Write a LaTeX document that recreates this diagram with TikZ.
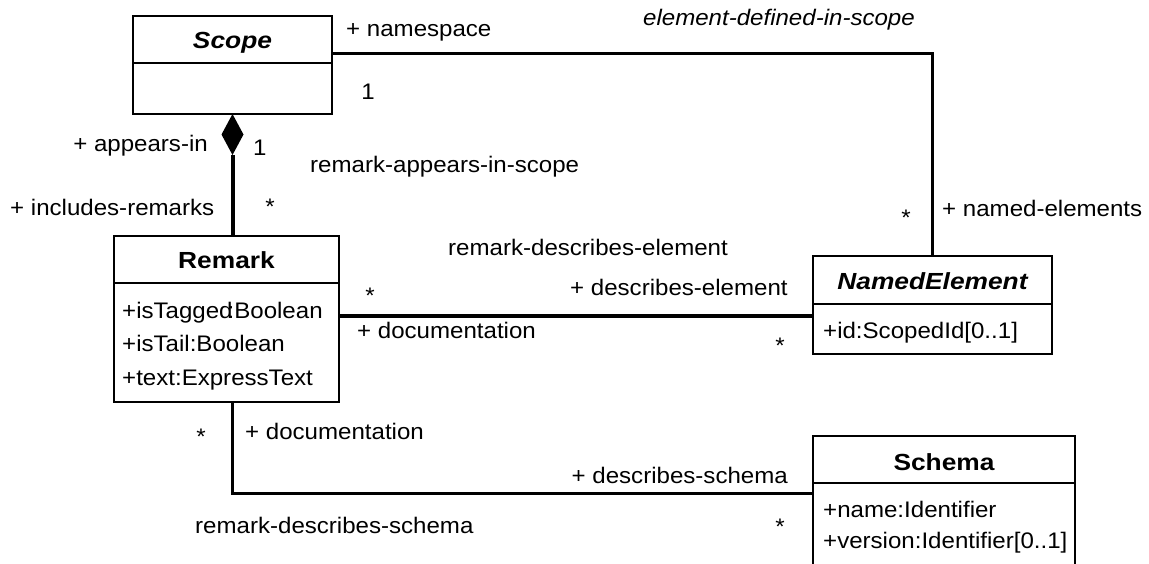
\documentclass[tikz,border=0pt]{standalone}
\usepackage{fontspec}
\setmainfont{Liberation Sans}[FakeStretch=1.07]
\newfontfamily\titlefont{Liberation Sans}[FakeStretch=1.13]
\usetikzlibrary{calc}
\begin{document}
\begin{tikzpicture}[x=1pt,y=-1pt,
  font=\fontsize{22.5}{26}\selectfont,
  classbox/.style={draw, line width=2pt, inner sep=0pt, outer sep=0pt, fill=white},
  divider/.style={line width=2pt},
  lbl/.style={inner sep=0pt, anchor=base west},
  rlbl/.style={inner sep=0pt, anchor=base east},
  clbl/.style={inner sep=0pt, anchor=base},
  ctitle/.style={inner sep=0pt, anchor=base, font=\fontsize{23.3}{26}\selectfont\titlefont\bfseries},
  assoc/.style={line width=2.3pt},
  strong/.style={line width=4pt}]
\useasboundingbox (0,0) rectangle (1149,564);
\clip (0,0) rectangle (1149,564);
\fill[white] (0,0) rectangle (1149,564);

% ---- classes
\node[classbox, minimum width=199pt, minimum height=98pt] (scope) at (232.5,65) {};
\draw[divider] ($(scope.north west)+(0,47)$) -- ($(scope.north east)+(0,47)$);
\node[ctitle] (scopet) at (232.5,49) {\itshape Scope};

\node[classbox, minimum width=225pt, minimum height=166pt] (remark) at (226.5,319) {};
\draw[divider] ($(remark.north west)+(0,47)$) -- ($(remark.north east)+(0,47)$);
\node[ctitle] (remarkt) at (226.5,269) {Remark};
\node[lbl] (ra1) at (122,318) {+isTagged\kern-5pt:Boolean};
\node[lbl] (ra2) at (122,351) {+isTail:Boolean};
\node[lbl] (ra3) at (122,385) {+text:ExpressText};

\node[classbox, minimum width=239pt, minimum height=98pt] (named) at (932.5,305) {};
\draw[divider] ($(named.north west)+(0,48)$) -- ($(named.north east)+(0,48)$);
\node[ctitle] (namedt) at (932.5,289) {\itshape NamedElement};
\node[lbl] (na1) at (823,338) {+id:ScopedId[0..1]};

\node[classbox, minimum width=262pt, minimum height=200pt] (schema) at (944,536) {};
\draw[divider] ($(schema.north west)+(0,47)$) -- ($(schema.north east)+(0,47)$);
\node[ctitle] (schemat) at (944,470) {Schema};
\node[lbl] (sa1) at (823,517) {+name:Identifier};
\node[lbl] (sa2) at (823,548) {+version:Identifier[0..1]};

% ---- connectors
\coordinate (ytop) at (0,53.5);
\coordinate (ymid) at (0,316);
\coordinate (ybot) at (0,493.5);
\coordinate (dtip) at ($(scope.south)+(0,41)$);

\draw[assoc] (scope.east |- ytop) -| (named.north);
\fill (scope.south) -- ++(11,20.5) -- (dtip) -- ++(-11,-20.5) -- cycle;
\draw[strong] (dtip) -- (dtip |- remark.north);
\draw[strong] (remark.east |- ymid) -- (named.west |- ymid);
\draw[assoc] (scope.south |- remark.south) |- (schema.west |- ybot);

% ---- labels
\node[lbl] (l1) at (346,37) {+ namespace};
\node[rlbl] (l2) at (915,26) {\itshape element-defined-in-scope};
\node[clbl] (l3) at (368,100) {1};
\node[rlbl] (l4) at (208,152) {+ appears-in};
\node[lbl] (l5) at (253,156) {1};
\node[lbl] (l6) at (10,216) {+ includes-remarks};
\node[clbl] (l7) at (270,214.5) {*};
\node[lbl] (l8) at (310,173) {remark-appears-in-scope};
\node[clbl] (l9) at (906,225.5) {*};
\node[lbl] (l10) at (942,217) {+ named-elements};
\node[lbl] (l11) at (448,256) {remark-describes-element};
\node[clbl] (l12) at (370,303.5) {*};
\node[lbl] (l13) at (570,295) {+ describes-element};
\node[lbl] (l14) at (357,338) {+ documentation};
\node[clbl] (l15) at (780,353.5) {*};
\node[clbl] (l16) at (201,444.5) {*};
\node[lbl] (l17) at (245,439) {+ documentation};
\node[rlbl] (l18) at (788,483) {+ describes-schema};
\node[clbl] (l19) at (780,534.5) {*};
\node[lbl] (l20) at (195,533) {remark-describes-schema};
\end{tikzpicture}
\end{document}
